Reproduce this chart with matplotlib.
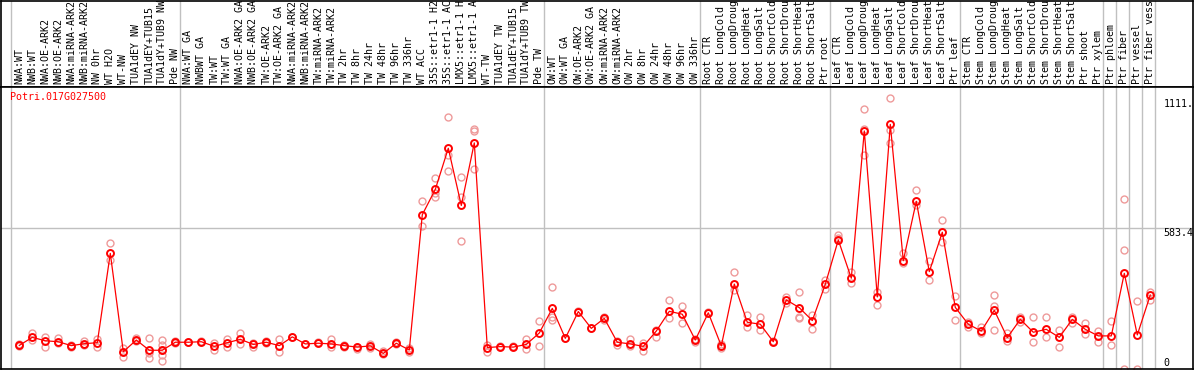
import matplotlib
matplotlib.use('Agg')
import matplotlib.pyplot as plt

labels = ['NWA:WT', 'NWB:WT', 'NWA:OE-ARK2', 'NWB:OE-ARK2', 'NWA:miRNA-ARK2', 'NWB:miRNA-ARK2',
          'NW 0hr', 'WT H2O', 'WT-NW', 'TUA1dEY NW', 'TUA1dEY+TUB15', 'TUA1dY+TUB9 NW', 'Pde NW',
          'NWA:WT GA', 'NWBWT GA', 'TW:WT', 'TW:WT GA', 'NWA:OE-ARK2 GA', 'NWB:OE-ARK2 GA',
          'TW:OE-ARK2', 'TW:OE-ARK2 GA', 'NWA:miRNA-ARK2', 'NWB:miRNA-ARK2', 'TW:miRNA-ARK2',
          'TW:miRNA-ARK2', 'TW 2hr', 'TW 8hr', 'TW 24hr', 'TW 48hr', 'TW 96hr', 'TW 336hr',
          'WT ACC', '35S::etr1-1 H2O', '35S::etr1-1 ACC', 'LMX5::etr1-1 H2O', 'LMX5::etr1-1 ACC',
          'WT-TW', 'TUA1dEY TW', 'TUA1dEY+TUB15', 'TUA1dY+TUB9 TW', 'Pde TW',
          'OW:WT', 'OW:WT GA', 'OW:OE-ARK2', 'OW:OE-ARK2 GA', 'OW:miRNA-ARK2', 'OW:miRNA-ARK2',
          'OW 2hr', 'OW 8hr', 'OW 24hr', 'OW 48hr', 'OW 96hr', 'OW 336hr',
          'Root CTR', 'Root LongCold', 'Root LongDrought', 'Root LongHeat', 'Root LongSalt',
          'Root ShortCold', 'Root ShortDrought', 'Root ShortHeat', 'Root ShortSalt', 'Ptr root',
          'Leaf CTR', 'Leaf LongCold', 'Leaf LongDrought', 'Leaf LongHeat', 'Leaf LongSalt',
          'Leaf ShortCold', 'Leaf ShortDrought', 'Leaf ShortHeat', 'Leaf ShortSalt', 'Ptr leaf',
          'Stem CTR', 'Stem LongCold', 'Stem LongDrought', 'Stem LongHeat', 'Stem LongSalt',
          'Stem ShortCold', 'Stem ShortDrought', 'Stem ShortHeat', 'Stem ShortSalt', 'Ptr shoot',
          'Ptr xylem', 'Ptr phloem', 'Ptr fiber', 'Ptr vessel', 'Ptr fiber vessel']

means = [101, 134, 120, 116, 100, 108, 112, 479, 75, 123, 81, 81, 114,
         114, 116, 97, 112, 126, 105, 114, 100, 136, 107, 110, 107, 100, 94, 99, 68, 110, 82,
         638, 742, 911, 676, 933, 92, 96, 94, 105, 152,
         253, 130, 240, 171, 212, 114, 107, 97, 160, 241, 229, 123,
         235, 99, 353, 196, 188, 116, 288, 256, 203, 352,
         534, 377, 982, 300, 1009, 449, 693, 404, 566, 257,
         188, 160, 245, 133, 208, 155, 167, 134, 208, 167,
         140, 140, 397, 144, 308]

reps = [[105, 99], [151, 123], [137, 93], [130, 110], [103, 96], [120, 103], [126, 96],
        [520, 452], [89, 55], [130, 120], [130, 68, 48], [123, 103, 82, 62, 37], [120, 110],
        [114], [120], [110, 82], [127, 96], [153, 107], [110, 96], [120, 110], [127, 75],
        [137], [107], [114], [126, 93], [103, 96], [96, 85], [107, 89], [78, 64], [114, 107],
        [89, 75], [694, 592], [788, 726, 710], [1038, 883, 818], [792, 710, 530],
        [989, 982, 824], [103, 75], [100], [100], [126, 85], [201, 100],
        [341, 219, 205], [130], [242], [173], [219, 205], [120, 103], [126, 99], [110, 78],
        [164, 137], [288, 212], [263, 192], [126, 116],
        [240], [105, 89], [404, 329], [226, 178], [219, 164], [120], [301, 274],
        [319, 219, 212], [226, 167], [370, 332],
        [555, 541], [404, 359], [1071, 989, 883], [322, 267], [1116, 986, 931], [479, 438],
        [740, 678], [449, 370], [616, 527], [304, 205],
        [199, 175], [178, 151], [308, 263, 164], [151, 120], [219, 199], [217, 116],
        [217, 137], [164, 96], [219, 192], [192, 147],
        [161, 116], [201, 103], [701, 492, 3], [283, 3], [322, 288]]

group_starts = [0, 13, 41, 53, 63, 73, 84, 85, 86, 87, 88]
gene = 'Potri.017G027500'
ytick_vals = [0, 583.4, 1111.7]
ytick_text = ['0', '583.4', '1111.7']

W, H = 1194, 370
fig = plt.figure(figsize=(W / 100, H / 100), dpi=100)
mono = 'DejaVu Sans Mono'
grid_c = '#c0c0c0'

x0 = (1 - 19.3) / 13
x1 = (1193 - 19.3) / 13

# label strip
axl = fig.add_axes([1 / W, (H - 87) / H, 1192 / W, 86.5 / H])
axl.set_xlim(x0, x1)
axl.set_ylim(0, 87)
axl.set_xticks([])
axl.set_yticks([])
for s in axl.spines.values():
    s.set_linewidth(1.2)
for g in group_starts:
    axl.axvline(g - 0.65, color=grid_c, lw=1)
for i, lab in enumerate(labels):
    t = axl.text(i, 3, lab, rotation=90, ha='center', va='bottom',
                 fontsize=7.2, family=mono, color='black')
    t.set_clip_on(True)

# main plot
ax = fig.add_axes([1 / W, 1 / H, 1192 / W, 282 / H])
ax.set_xlim(x0, x1)
ax.set_ylim(4, (370 - 87) / 0.2434)
ax.set_xticks([])
ax.set_yticks([])
for s in ax.spines.values():
    s.set_linewidth(1.2)
for g in group_starts:
    ax.axvline(g - 0.65, color=grid_c, lw=1, zorder=0)
ax.axhline(583.4, color=grid_c, lw=1, zorder=0)

for i, r in enumerate(reps):
    ax.plot([i] * len(r), r, 'o', ms=5, mfc='none', mec='#ee9a9a', mew=1, zorder=2,
            clip_on=True)
xs = list(range(len(means)))
ax.plot(xs, means, '-', color='red', lw=0.9, zorder=3)
ax.plot(xs, means, 'o', ms=5, mfc='none', mec='red', mew=1.4, zorder=4)

ax.text(9 / 1192, 1 - 5 / 282, gene, transform=ax.transAxes, ha='left', va='top',
        fontsize=7.2, family=mono, color='red')

for v, s in zip(ytick_vals, ytick_text):
    va = 'bottom' if v == 0 else 'top'
    t = ax.text(88.0, v if v else 8, s, ha='left', va=va, fontsize=7.2, family=mono)
    t.set_clip_on(True)

fig.savefig('out.png', dpi=100)
